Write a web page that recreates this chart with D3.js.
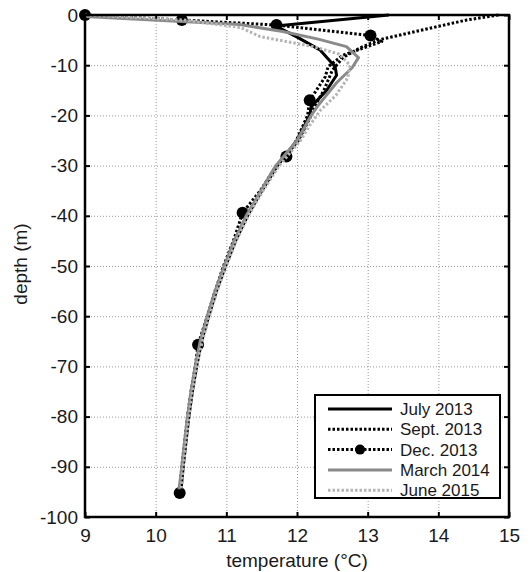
<!DOCTYPE html>
<html>
<head>
<meta charset="utf-8">
<script src="https://cdn.jsdelivr.net/npm/d3@7"></script>
<style>
  body { margin: 0; background: #fff; }
  svg { display: block; font-family: "Liberation Sans", Arial, sans-serif; }
</style>
</head>
<body>
<svg id="chart" width="530" height="572"></svg>
<script>
// ---- data ----
const xTicks = [9, 10, 11, 12, 13, 14, 15];
const yTicks = [0, -10, -20, -30, -40, -50, -60, -70, -80, -90, -100];
const seriesNames = ["July 2013", "Sept. 2013", "Dec. 2013", "March 2014", "June 2015"];

const julyDepth = [0, -2.2, -4.3, -7, -10.3, -12, -15, -18.3, -20, -25, -30, -35, -40, -45, -50, -55, -60, -65, -70, -75, -80, -85, -90, -94.5];
const julyTemp  = [13.3, 11.7, 11.99, 12.33, 12.54, 12.56, 12.42, 12.2, 12.18, 12.0, 11.72, 11.5, 11.3, 11.13, 10.99, 10.86, 10.75, 10.65, 10.58, 10.52, 10.47, 10.43, 10.39, 10.36];

const septDepth = [0, -1, -4.9, -6.5, -8.5, -11, -15, -19, -20, -25, -30, -35, -40, -45, -50, -55, -60, -65, -70, -75, -80, -85, -90, -94.5];
const septTemp  = [14.85, 14.4, 13.17, 12.9, 12.65, 12.5, 12.38, 12.22, 12.2, 12.02, 11.72, 11.5, 11.29, 11.12, 10.98, 10.85, 10.74, 10.64, 10.57, 10.51, 10.46, 10.42, 10.38, 10.35];

const decDepth = [0, -1, -2, -4.1, -5.3, -8, -10.3, -12.3, -17, -20, -25, -28.2, -30, -35, -39.4, -45, -50, -55, -60, -65.7, -70, -75, -80, -85, -90, -95.2];
const decTemp  = [9.0, 10.37, 11.71, 13.04, 13.2, 12.65, 12.44, 12.4, 12.18, 12.15, 11.99, 11.85, 11.71, 11.48, 11.23, 11.1, 10.96, 10.84, 10.73, 10.6, 10.56, 10.5, 10.45, 10.41, 10.37, 10.34];
const decMarkDepth = [0, -1, -2, -4.1, -17, -28.2, -39.4, -65.7, -95.2];
const decMarkTemp  = [9.0, 10.37, 11.71, 13.04, 12.18, 11.85, 11.23, 10.6, 10.34];

const marchDepth = [-0.3, -1.9, -3.3, -4.8, -6.3, -8.5, -10.5, -13.5, -18, -20, -25, -30, -35, -40, -45, -50, -55, -60, -65, -70, -75, -80, -85, -90, -94.5];
const marchTemp  = [9.0, 11.19, 11.8, 12.3, 12.7, 12.87, 12.78, 12.56, 12.3, 12.2, 12.0, 11.7, 11.49, 11.28, 11.11, 10.97, 10.84, 10.73, 10.63, 10.56, 10.5, 10.45, 10.41, 10.37, 10.33];

const juneDepth = [0, -1, -2.5, -4.3, -6.3, -7.8, -10, -12.5, -16, -19, -22, -25, -30, -35, -40, -45, -50, -55, -60, -65, -70, -75, -80, -85, -90, -94.5];
const juneTemp  = [9.0, 10.4, 11.2, 11.48, 12.23, 12.6, 12.75, 12.72, 12.55, 12.33, 12.18, 12.05, 11.75, 11.52, 11.31, 11.14, 11.0, 10.87, 10.76, 10.66, 10.58, 10.52, 10.47, 10.43, 10.39, 10.36];

// ---- layout ----
const svg = d3.select("#chart");
const L = 85, R = 509, T = 15, B = 517;
const W = R - L, H = B - T;
const x = d3.scaleLinear().domain([9, 15]).range([L, R]);
const y = d3.scaleLinear().domain([-100, 0]).range([B, T]);

const series = [
  {name: seriesNames[0], d: julyDepth,  t: julyTemp,  color: "#000", width: 3,   dash: null},
  {name: seriesNames[1], d: septDepth,  t: septTemp,  color: "#000", width: 3,   dash: "2.5,2"},
  {name: seriesNames[2], d: decDepth,   t: decTemp,   color: "#000", width: 3,   dash: "2.5,2", marker: true},
  {name: seriesNames[3], d: marchDepth, t: marchTemp, color: "#8a8a8a", width: 3, dash: null},
  {name: seriesNames[4], d: juneDepth,  t: juneTemp,  color: "#b4b4b4", width: 3, dash: "2.5,2"}
];

// grid
const grid = svg.append("g");
grid.append("g").attr("transform", `translate(0,${B})`)
  .call(d3.axisBottom(x).tickValues(xTicks).tickSize(-H).tickFormat(""))
  .call(g => g.select(".domain").remove());
grid.append("g").attr("transform", `translate(${L},0)`)
  .call(d3.axisLeft(y).tickValues(yTicks).tickSize(-W).tickFormat(""))
  .call(g => g.select(".domain").remove());
grid.selectAll("line").attr("stroke", "#999").attr("stroke-width", 1).attr("stroke-dasharray", "1,2");

// axes with inward ticks and labels
const fs = "19px";
const ax = svg.append("g").attr("transform", `translate(0,${B})`)
  .call(d3.axisBottom(x).tickValues(xTicks).tickSize(-5).tickPadding(12).tickFormat(d => String(d)));
const ay = svg.append("g").attr("transform", `translate(${L},0)`)
  .call(d3.axisLeft(y).tickValues(yTicks).tickSize(-5).tickPadding(7).tickFormat(d => String(d)));
const axt = svg.append("g").attr("transform", `translate(0,${T})`)
  .call(d3.axisTop(x).tickValues(xTicks).tickSize(-5).tickFormat(""));
const ayr = svg.append("g").attr("transform", `translate(${R},0)`)
  .call(d3.axisRight(y).tickValues(yTicks).tickSize(-5).tickFormat(""));
[ax, ay, axt, ayr].forEach(g => {
  g.select(".domain").remove();
  g.selectAll("line").attr("stroke", "#000").attr("stroke-width", 2);
  g.selectAll("text").attr("font-size", fs).attr("fill", "#1a1a1a")
    .attr("font-family", "'Liberation Sans', Arial, sans-serif");
});

// lines
const line = d3.line().x(p => x(p[0])).y(p => y(p[1]));
series.forEach(s => {
  const pts = s.t.map((v, i) => [v, s.d[i]]);
  svg.append("path").datum(pts)
    .attr("d", line)
    .attr("fill", "none")
    .attr("stroke", s.color)
    .attr("stroke-width", s.width)
    .attr("stroke-linejoin", "round")
    .attr("stroke-dasharray", s.dash);
  if (s.marker) {
    svg.append("g").selectAll("circle")
      .data(decMarkTemp.map((v, i) => [v, decMarkDepth[i]]))
      .join("circle")
      .attr("cx", p => x(p[0])).attr("cy", p => y(p[1]))
      .attr("r", 6).attr("fill", "#000");
  }
});

// frame
svg.append("rect").attr("x", L).attr("y", T).attr("width", W).attr("height", H)
  .attr("fill", "none").attr("stroke", "#000").attr("stroke-width", 2.5);

// axis titles
svg.append("text").attr("x", (L + R) / 2).attr("y", 567)
  .attr("text-anchor", "middle").attr("font-size", fs).attr("fill", "#1a1a1a")
  .text("temperature (°C)");
svg.append("text").attr("transform", `translate(27,${(T + B) / 2 - 2}) rotate(-90)`)
  .attr("text-anchor", "middle").attr("font-size", fs).attr("fill", "#1a1a1a")
  .text("depth (m)");

// legend
const lg = svg.append("g");
lg.append("rect").attr("x", 315).attr("y", 395).attr("width", 185).attr("height", 103)
  .attr("fill", "#fff").attr("stroke", "#000").attr("stroke-width", 2);
series.forEach((s, i) => {
  const yy = 409 + i * 20.3;
  lg.append("line").attr("x1", 328).attr("x2", 392).attr("y1", yy).attr("y2", yy)
    .attr("stroke", s.color).attr("stroke-width", s.width).attr("stroke-dasharray", s.dash);
  if (s.marker) {
    lg.append("circle").attr("cx", 360).attr("cy", yy).attr("r", 5).attr("fill", "#000");
  }
  lg.append("text").attr("x", 400).attr("y", yy + 6).attr("font-size", "17px")
    .attr("fill", "#1a1a1a").text(s.name);
});
</script>
</body>
</html>
